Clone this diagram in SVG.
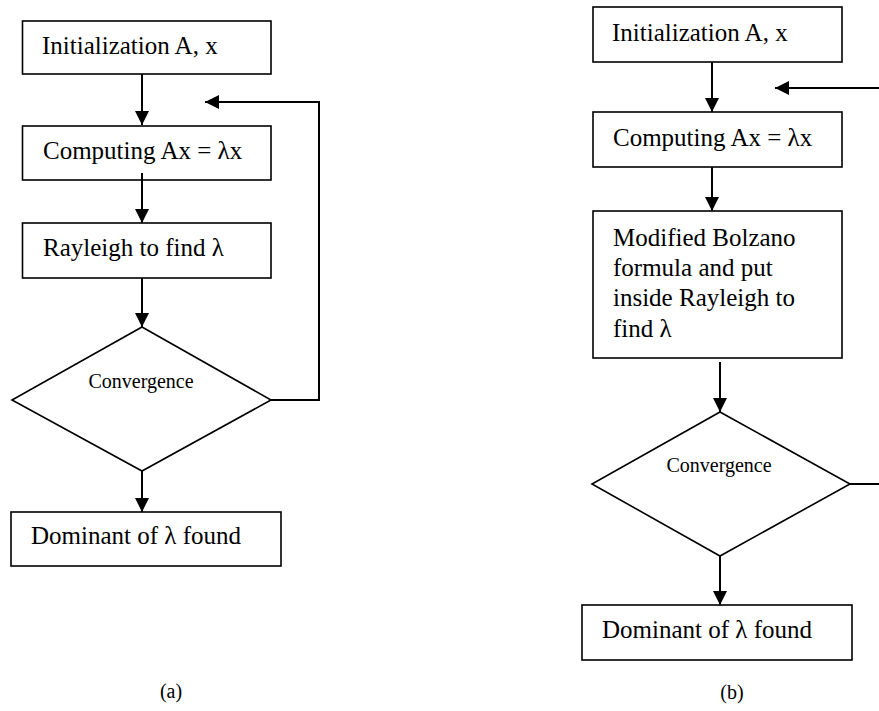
<svg xmlns="http://www.w3.org/2000/svg" width="879" height="711" viewBox="0 0 879 711">
<style>
.box{fill:#fff;stroke:#000;stroke-width:1.6}
.t{font-family:"Liberation Serif","Times New Roman",serif;font-size:25px;fill:#000}
.s{font-family:"Liberation Serif","Times New Roman",serif;font-size:20px;fill:#000}
.c{fill:none;stroke:#000;stroke-width:2}
</style>
<defs>
<marker id="ah" viewBox="0 0 14 14" refX="14" refY="7" markerWidth="14" markerHeight="14" markerUnits="userSpaceOnUse" orient="auto">
<path d="M0,0 L14,7 L0,14 z" fill="#000"/>
</marker>
</defs>
<rect width="879" height="711" fill="#fff"/>
<g id="a-init"><rect class="box" x="22.5" y="21" width="248.5" height="53"/><text class="t" x="42" y="54">Initialization A, x</text></g>
<g id="a-comp"><rect class="box" x="22.5" y="126" width="248.5" height="54"/><text class="t" x="43" y="159">Computing Ax = λx</text></g>
<g id="a-rayl"><rect class="box" x="22.5" y="223" width="248.5" height="55"/><text class="t" x="43" y="256">Rayleigh to find λ</text></g>
<g id="a-conv"><polygon class="box" points="142,327 271,400 142,471 12,400"/><text class="s" x="141" y="388" text-anchor="middle">Convergence</text></g>
<g id="a-dom"><rect class="box" x="11" y="512" width="270" height="54"/><text class="t" x="31" y="544">Dominant of λ found</text></g>
<text class="s" x="171" y="698" text-anchor="middle">(a)</text>
<g id="b-init"><rect class="box" x="593" y="7" width="249" height="55"/><text class="t" x="612" y="41">Initialization A, x</text></g>
<g id="b-comp"><rect class="box" x="593" y="112" width="249" height="55"/><text class="t" x="613" y="146">Computing Ax = λx</text></g>
<g id="b-bolz"><rect class="box" x="593" y="211" width="249" height="147"/><text class="t" x="613" y="246">Modified Bolzano</text><text class="t" x="613" y="276">formula and put</text><text class="t" x="613" y="306">inside Rayleigh to</text><text class="t" x="613" y="337">find λ</text></g>
<g id="b-conv"><polygon class="box" points="720,412 850,484 720,556 592,484"/><text class="s" x="719" y="472" text-anchor="middle">Convergence</text></g>
<g id="b-dom"><rect class="box" x="582" y="605" width="270" height="55"/><text class="t" x="602" y="638">Dominant of λ found</text></g>
<text class="s" x="732" y="699" text-anchor="middle">(b)</text>
<g id="connectors">
<path class="c" d="M142,74 V125" marker-end="url(#ah)"/>
<path class="c" d="M142,173 V223" marker-end="url(#ah)"/>
<path class="c" d="M142,278 V327" marker-end="url(#ah)"/>
<path class="c" d="M142,471 V512" marker-end="url(#ah)"/>
<path class="c" d="M271,400 H319 V102 H205" marker-end="url(#ah)"/>
<path class="c" d="M712,62 V112" marker-end="url(#ah)"/>
<path class="c" d="M712,167 V211" marker-end="url(#ah)"/>
<path class="c" d="M720,362 V412" marker-end="url(#ah)"/>
<path class="c" d="M720,556 V605" marker-end="url(#ah)"/>
<path class="c" d="M879,88 H775" marker-end="url(#ah)"/>
<path class="c" d="M850,484 H879"/>
</g>
</svg>
